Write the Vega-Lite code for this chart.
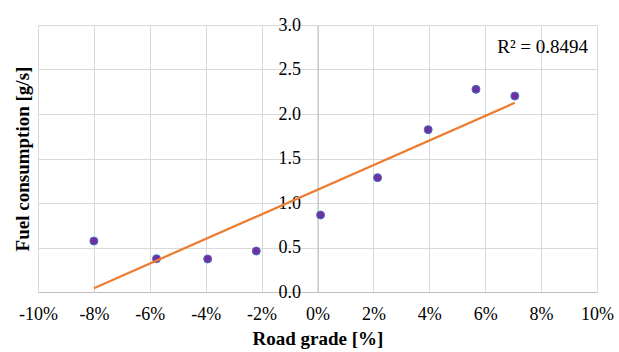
{
  "$schema": "https://vega.github.io/schema/vega-lite/v6.json",
  "autosize": {"type": "none"},
  "padding": {"left": 38, "top": 25, "right": 22, "bottom": 60},
  "width": 559,
  "height": 267,
  "background": "white",
  "config": {
    "view": {"stroke": null},
    "font": "Liberation Serif",
    "axis": {"labelFont": "Liberation Serif", "titleFont": "Liberation Serif", "labelFontSize": 18, "titleFontSize": 19, "labelColor": "#000000", "titleColor": "#000000", "gridColor": "#d9d9d9", "gridWidth": 1, "domainColor": "#bfbfbf", "ticks": false, "labelFlush": false}
  },
  "datasets": {
    "points": [
      {"grade": -8.0, "fuel": 0.573},
      {"grade": -5.76, "fuel": 0.374},
      {"grade": -3.93, "fuel": 0.371},
      {"grade": -2.19, "fuel": 0.46},
      {"grade": 0.11, "fuel": 0.865},
      {"grade": 2.15, "fuel": 1.285},
      {"grade": 3.96, "fuel": 1.824},
      {"grade": 5.67, "fuel": 2.277},
      {"grade": 7.06, "fuel": 2.202}
    ],
    "trend": [
      {"grade": -8.0, "fuel": 0.043},
      {"grade": 7.06, "fuel": 2.126}
    ],
    "note": [
      {"grade": 9.68, "fuel": 2.68, "label": "R² = 0.8494"}
    ]
  },
  "encoding": {
    "x": {"field": "grade", "type": "quantitative", "scale": {"domain": [-10, 10], "nice": false, "zero": false},
      "axis": {"values": [-10, -8, -6, -4, -2, 0, 2, 4, 6, 8, 10], "labelExpr": "datum.value + '%'", "labelFont": "Liberation Serif", "labelFontSize": 18, "labelFlush": false, "labelOverlap": false, "labelPadding": 13, "title": "Road grade [%]", "titleFont": "Liberation Serif", "titleFontSize": 19, "titleFontWeight": "bold", "titlePadding": 6, "grid": true, "domain": true}}
  },
  "resolve": {"axis": {"y": "independent"}},
  "layer": [
    {
      "data": {"name": "points"},
      "mark": {"type": "point", "filled": true, "size": 64, "fill": "#7030A0", "stroke": "#4472C4", "strokeWidth": 1, "opacity": 1},
      "encoding": {
        "y": {"field": "fuel", "type": "quantitative", "scale": {"domain": [0, 3], "nice": false},
          "axis": {"orient": "left", "values": [0, 0.5, 1, 1.5, 2, 2.5, 3], "labels": false, "domain": false, "grid": true, "title": "Fuel consumption [g/s]", "titleFont": "Liberation Serif", "titleFontSize": 19, "titleFontWeight": "bold", "titlePadding": 6}}
      }
    },
    {
      "data": {"name": "trend"},
      "mark": {"type": "line", "color": "#ED7D31", "strokeWidth": 2.25},
      "encoding": {
        "y": {"field": "fuel", "type": "quantitative",
          "axis": {"orient": "left", "offset": -279.5, "values": [0, 0.5, 1, 1.5, 2, 2.5, 3], "format": ".1f", "labelFont": "Liberation Serif", "labelFontSize": 18, "labelFlush": false, "labelPadding": 17, "grid": false, "domain": true, "title": null}}
      }
    },
    {
      "data": {"name": "note"},
      "mark": {"type": "text", "align": "right", "baseline": "alphabetic", "font": "Liberation Serif", "fontSize": 19, "color": "#000000"},
      "encoding": {
        "y": {"field": "fuel", "type": "quantitative", "axis": null},
        "text": {"field": "label"}
      }
    }
  ]
}
